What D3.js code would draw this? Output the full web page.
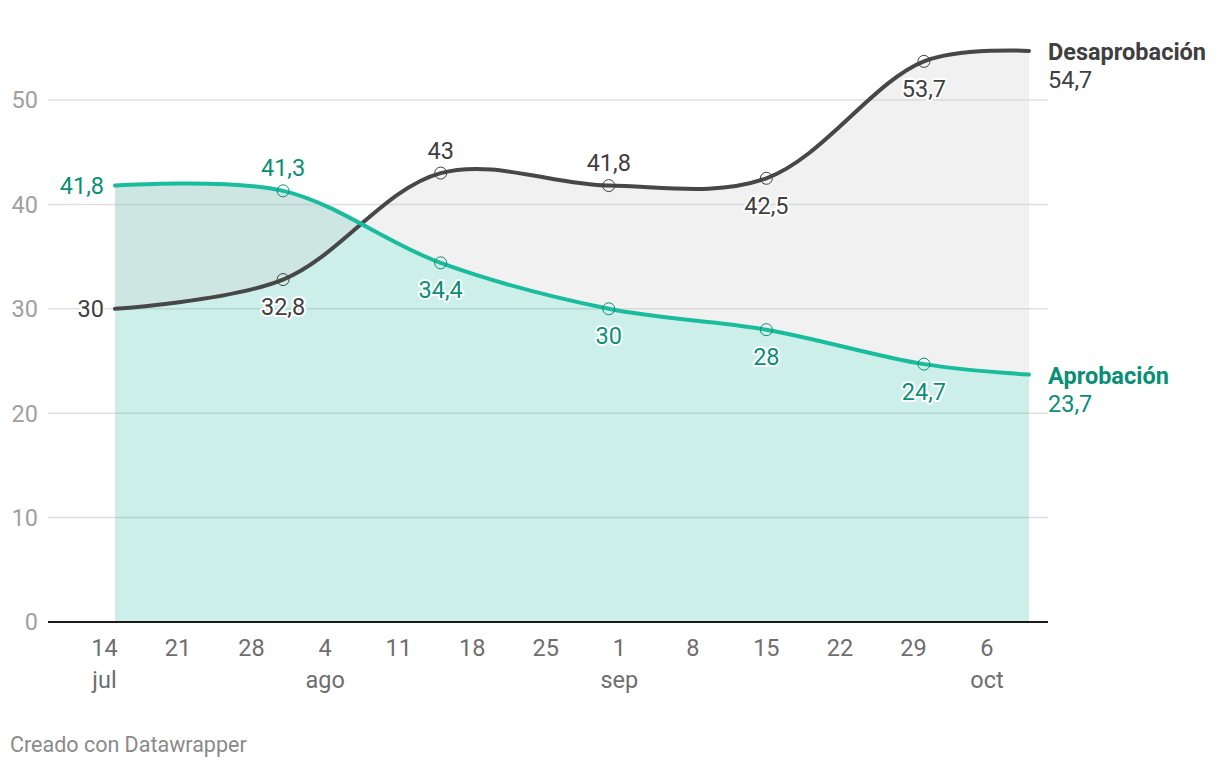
<!DOCTYPE html>
<html><head><meta charset="utf-8">
<script src="https://cdn.jsdelivr.net/npm/d3@7"></script>
<style>
body{margin:0;background:#fff;font-family:Roboto,"Noto Sans",sans-serif;}
svg text{font-family:Roboto,"Noto Sans",sans-serif;}
</style></head>
<body>
<svg id="c" width="1220" height="768"></svg>
<script>
const dates = ["2023-07-15","2023-07-31","2023-08-15","2023-08-31","2023-09-15","2023-09-30","2023-10-10"];
const desaprobacion = [30, 32.8, 43, 41.8, 42.5, 53.7, 54.7];
const aprobacion = [41.8, 41.3, 34.4, 30, 28, 24.7, 23.7];
const desLabelPos = ["left","below","above","above","below","below",null];
const aprLabelPos = ["left","above","below","below","below","below",null];
const yTicks = [0,10,20,30,40,50];
const xTickDates = ["2023-07-14","2023-07-21","2023-07-28","2023-08-04","2023-08-11","2023-08-18","2023-08-25","2023-09-01","2023-09-08","2023-09-15","2023-09-22","2023-09-29","2023-10-06"];
const monthLabels = {"2023-07-14":"jul","2023-08-04":"ago","2023-09-01":"sep","2023-10-06":"oct"};

const parse = d3.utcParse("%Y-%m-%d");
const svg = d3.select("#c");
const x = d3.scaleUtc().domain([parse(dates[0]), parse(dates[dates.length-1])]).range([115, 1029]);
const y = d3.scaleLinear().domain([0,50]).range([622,100]);
const fmt = v => String(v).replace(".", ",");
const curve = d3.curveCatmullRom.alpha(0.5);
const FS = 23.5;

const data = dates.map((d,i)=>({date:parse(d), des:desaprobacion[i], apr:aprobacion[i]}));

// gridlines
svg.append("g").selectAll("line").data(yTicks.filter(t=>t>0)).join("line")
  .attr("x1",48).attr("x2",1048).attr("y1",d=>y(d)).attr("y2",d=>y(d))
  .attr("stroke","#e0e0e0").attr("stroke-width",1.5);
svg.append("g").selectAll("text").data(yTicks).join("text")
  .attr("x",38).attr("y",d=>y(d)).attr("dy","0.36em").attr("text-anchor","end")
  .attr("fill","#a0a0a0").attr("font-size",FS).text(d=>d);

// areas
svg.append("path").datum(data)
  .attr("d", d3.area().x(d=>x(d.date)).y0(y(0)).y1(d=>y(d.apr)).curve(curve))
  .attr("fill","#15b89a").attr("fill-opacity",0.22);
svg.append("path").datum(data)
  .attr("d", d3.area().x(d=>x(d.date)).y0(d=>y(d.apr)).y1(d=>y(d.des)).curve(curve))
  .attr("fill","#cfcfcf").attr("fill-opacity",0.3);

// baseline
svg.append("line").attr("x1",48).attr("x2",1048).attr("y1",y(0)).attr("y2",y(0))
  .attr("stroke","#1a1a1a").attr("stroke-width",2);

// x axis labels
const xg = svg.append("g");
xg.selectAll("text.d").data(xTickDates).join("text").attr("class","d")
  .attr("x",d=>x(parse(d))).attr("y",656).attr("text-anchor","middle")
  .attr("fill","#6e6e6e").attr("font-size",FS).text(d=>+d.slice(8));
xg.selectAll("text.m").data(xTickDates.filter(d=>monthLabels[d])).join("text").attr("class","m")
  .attr("x",d=>x(parse(d))).attr("y",688).attr("text-anchor","middle")
  .attr("fill","#6e6e6e").attr("font-size",FS).text(d=>monthLabels[d]);

// lines
const series = [
  {key:"des", color:"#474747", labelColor:"#404040", pos:desLabelPos, name:"Desaprobación"},
  {key:"apr", color:"#19bc9d", labelColor:"#0a8f77", pos:aprLabelPos, name:"Aprobación"}
];
series.forEach(s=>{
  svg.append("path").datum(data)
    .attr("d", d3.line().x(d=>x(d.date)).y(d=>y(d[s.key])).curve(curve))
    .attr("fill","none").attr("stroke",s.color).attr("stroke-width",4).attr("stroke-linecap","round");
});
series.forEach(s=>{
  const pts = data.filter((d,i)=>i>0 && i<data.length-1);
  svg.append("g").selectAll("circle").data(pts).join("circle")
    .attr("cx",d=>x(d.date)).attr("cy",d=>y(d[s.key])).attr("r",6)
    .attr("fill","none").attr("stroke",s.labelColor).attr("stroke-width",1);
});
series.forEach(s=>{
  const lbl = data.map((d,i)=>({d, p:s.pos[i]})).filter(o=>o.p);
  const g = svg.append("g");
  lbl.forEach(o=>{
    const px = x(o.d.date), py = y(o.d[s.key]);
    let tx=px, ty=py, anchor="middle";
    if(o.p==="left"){tx=px-11; anchor="end";}
    if(o.p==="above"){ty=py-23;}
    if(o.p==="below"){ty=py+27;}
    const t = g.append("text").attr("x",tx).attr("y",ty).attr("dy","0.36em")
      .attr("text-anchor",anchor).attr("font-size",FS).text(fmt(o.d[s.key]));
    t.clone(true).lower();
    t.attr("fill",s.labelColor);
  });
  g.selectAll("text").filter(function(){return !this.getAttribute("fill");})
    .attr("fill","none").attr("stroke","#fff").attr("stroke-width",4).attr("stroke-linejoin","round");
  const last = data[data.length-1];
  const ly = y(last[s.key]);
  svg.append("text").attr("x",1048).attr("y",ly+9).attr("font-size",FS).attr("font-weight","bold")
    .attr("fill",s.labelColor).text(s.name);
  svg.append("text").attr("x",1048).attr("y",ly+37).attr("font-size",FS)
    .attr("fill",s.labelColor).text(fmt(last[s.key]));
});

svg.append("text").attr("x",10).attr("y",752).attr("font-size",21.5).attr("fill","#8a8a8a").text("Creado con Datawrapper");
</script>
</body></html>
